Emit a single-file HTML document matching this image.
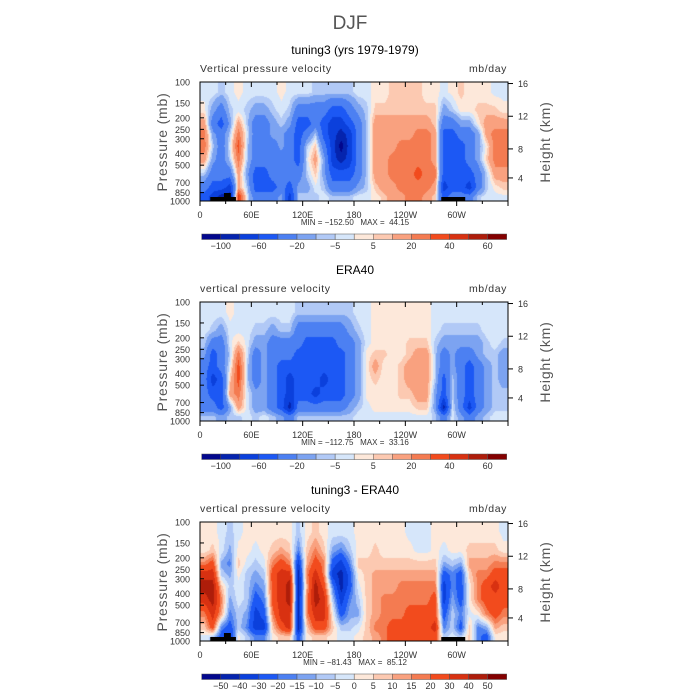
<!DOCTYPE html>
<html><head><meta charset="utf-8">
<style>
html,body{margin:0;padding:0;background:#fff;}
body{width:700px;height:700px;position:relative;overflow:hidden;font-family:"Liberation Sans",sans-serif;}
svg{position:absolute;left:0;top:0;}
canvas{position:absolute;}
text{white-space:pre;}
</style></head>
<body>
<div>
<canvas id="c0" width="308" height="119" style="left:200px;top:82px"></canvas>
<canvas id="c1" width="308" height="119" style="left:200px;top:302px"></canvas>
<canvas id="c2" width="308" height="119" style="left:200px;top:522px"></canvas>
<svg id="svg" width="700" height="700"></svg>
</div>
<script>
// ---- data ----
const lonCenters = [5,15,25,35,45,55,65,75,85,95,105,115,125,135,145,155,165,175,185,195,205,215,225,235,245,255,265,275,285,295,305,315,325,335,345,355];
const presCenters = [122,173,224,274,346,447,592,772,922];
const pressureTicks = [100,150,200,250,300,400,500,700,850,1000];
const heightTicks = [16,12,8,4];
const heightTickP = [103,194,365,640];
const lonTickLabels = ["0","60E","120E","180","120W","60W"];
const lonTickValues = [0,60,120,180,240,300];
const levelsAbs = [-100,-80,-60,-40,-20,-10,-5,0,5,10,20,30,40,50,60];
const levelsDiff = [-50,-40,-30,-20,-15,-10,-5,0,5,10,15,20,30,40,50];
const labelsAbs = ["-100","","-60","","-20","","-5","","5","","20","","40","","60"];
const labelsDiff = ["-50","-40","-30","-20","-15","-10","-5","0","5","10","15","20","30","40","50"];
const colors = ["#02078c","#0524ae","#0b40dc","#1c58f4","#4c80f2","#7ca3f1","#b1c9f6","#d6e6fa","#fde8da","#fcc9b1","#f9a17f","#f47b51","#f24b1d","#d83111","#ae1d0a","#830000"];

const tuning3 = [
[-2,2,15,25,25,15,-7,-30,-50],[-2,-15,-30,-15,-7,-15,-30,-50,-70],[-7,-30,-50,-30,-30,-30,-30,-50,-90],
[-2,-7,-15,-7,-2,-7,-30,-70,-90],[2,-2,15,25,35,25,15,15,45],[-2,-7,-7,-2,-7,-7,-15,-7,-2],
[-2,-15,-30,-30,-30,-30,-50,-50,-30],[-2,-15,-30,-30,-30,-30,-50,-50,-30],[-2,-7,-15,-15,-30,-30,-30,-50,-30],
[2,-2,-7,-15,-15,-30,-30,-30,-15],[-2,-7,-15,-30,-30,-30,-30,-50,-70],[-2,-30,-50,-50,-50,-50,-30,-15,-7],
[-2,-30,-50,-30,-7,-2,-7,-15,-7],[-7,-30,-30,-7,7,15,7,-2,-7],[-7,-30,-50,-50,-30,-15,-15,-7,-2],
[-7,-50,-70,-70,-70,-70,-50,-30,-7],[-7,-50,-70,-90,-110,-90,-50,-30,-7],[-7,-30,-50,-70,-70,-70,-50,-30,-7],
[-2,-15,-30,-30,-30,-30,-30,-15,-2],[-2,-7,-7,-7,-7,-7,-7,-7,-2],[2,7,15,15,15,15,15,7,2],
[2,7,15,15,15,15,15,15,7],[7,7,15,15,15,25,25,15,15],[7,7,15,15,25,25,25,25,15],
[7,7,15,15,25,25,25,25,25],[7,7,15,25,25,25,35,25,25],[2,7,15,25,25,25,25,25,15],
[2,7,7,15,15,15,25,15,7],[-2,-15,-30,-50,-50,-50,-50,-70,-50],[2,-7,-30,-50,-50,-50,-50,-50,-30],
[7,2,-15,-30,-50,-50,-50,-50,-30],[2,2,-15,-30,-30,-30,-50,-70,-30],[2,7,2,-15,-15,-15,-30,-30,-7],
[2,7,15,15,2,7,-7,-7,-2],[-2,7,15,25,25,25,15,2,-2],[-2,2,15,25,25,25,15,7,-2]];

const era40 = [
[-2,-2,-7,-15,-30,-30,-30,-30,-7],[-2,-7,-30,-50,-50,-70,-50,-30,-7],[-2,-15,-30,-30,-30,-50,-50,-50,-15],
[2,-2,-2,-7,-2,7,15,-15,-7],[-2,-2,7,25,35,35,25,15,-7],[-2,-2,-2,-2,-7,-7,-2,-2,-2],
[-2,-7,-15,-30,-30,-30,-15,-15,-7],[-2,-7,-15,-15,-15,-15,-15,-15,-2],[-2,-15,-30,-30,-30,-30,-30,-30,-7],
[-2,-7,-30,-30,-50,-50,-50,-50,-15],[-2,-7,-30,-30,-50,-70,-70,-90,-30],[-7,-30,-30,-50,-50,-50,-50,-30,-7],
[-7,-30,-50,-50,-50,-50,-50,-30,-7],[-7,-30,-50,-50,-50,-50,-70,-30,-7],[-7,-30,-50,-50,-50,-70,-50,-30,-7],
[-7,-30,-50,-50,-50,-50,-50,-30,-7],[-7,-30,-30,-50,-50,-50,-50,-30,-7],[-7,-15,-30,-30,-30,-30,-30,-15,-7],
[-2,-7,-15,-15,-15,-15,-15,-7,-2],[-2,-2,-2,2,2,2,2,-2,-2],[2,2,2,7,15,7,2,2,-2],
[2,2,2,7,2,2,2,2,-2],[2,2,2,2,2,2,2,2,-2],[2,2,2,2,7,7,7,2,-2],
[2,2,7,7,15,15,7,2,-2],[2,2,7,15,15,15,15,7,-2],[2,2,7,15,15,15,15,7,-2],
[-2,-2,-7,-7,-7,-7,-15,-15,-7],[-2,-7,-15,-30,-30,-50,-50,-90,-30],[-2,-7,-15,-15,-15,-7,-7,-2,-2],
[-2,-7,-15,-30,-30,-30,-30,-30,-15],[-2,-7,-15,-30,-50,-50,-50,-70,-30],[-2,-7,-15,-15,-30,-30,-30,-30,-15],
[-2,-2,-7,-7,-15,-15,-15,-15,-7],[-2,-2,-2,-7,-7,-7,-7,-7,-2],[-2,-2,-7,-15,-15,-15,-7,-7,-2]];

const diff = [
[2,2,17,35,45,35,17,7,-2],[2,7,25,35,45,45,35,25,-7],[-2,-2,-12,-7,7,17,12,-17,-25],
[-7,-12,-17,-12,-7,-12,-17,-25,-35],[-2,2,7,2,-2,-2,-7,-7,2],[2,2,-2,-7,-7,-7,-12,-17,-7],
[2,-2,-7,-12,-17,-25,-35,-35,-17],[2,2,-2,-7,-12,-17,-25,-35,-17],[2,7,17,25,25,25,17,7,2],
[2,12,25,35,35,35,35,25,7],[2,7,17,35,45,45,35,35,7],[-7,-17,-35,-45,-45,-45,-45,-45,-25],
[2,7,12,17,12,17,17,7,2],[7,17,25,35,45,45,35,25,7],[2,7,17,17,25,35,35,25,7],
[-2,-12,-25,-35,-17,-7,2,7,2],[-2,-17,-35,-45,-45,-35,-25,-7,-2],[-2,-7,-17,-25,-25,-17,-12,-7,-2],
[2,2,7,2,-2,-7,-12,-2,2],[2,2,7,7,7,7,7,7,7],[2,7,7,12,12,12,12,17,12],
[2,2,7,12,12,17,17,17,17],[2,2,7,12,12,17,17,25,25],[2,2,7,12,17,17,17,25,25],
[-2,2,7,12,17,17,25,25,25],[-2,-2,7,12,17,17,25,25,25],[-2,-2,7,12,17,17,25,25,25],
[2,2,7,12,17,25,25,35,25],[2,-2,-12,-25,-35,-35,-25,-17,-7],[2,2,-7,-17,-17,-12,-7,-7,-2],
[2,2,-12,-25,-25,-25,-17,-25,-7],[2,7,12,7,2,2,-2,7,7],[2,7,12,17,17,17,2,-17,-17],
[2,7,12,17,25,25,17,-12,-25],[2,7,17,25,35,25,25,12,2],[-2,2,17,25,25,25,17,7,2]];

const titles = ["tuning3 (yrs 1979-1979)","ERA40","tuning3 - ERA40"];
const subtitles = ["Vertical pressure velocity","vertical pressure velocity","vertical pressure velocity"];
const minmax = ["MIN = \u2212152.50   MAX =  44.15","MIN = \u2212112.75   MAX =  33.16","MIN = \u221281.43   MAX =  85.12"];

// ---- geometry ----
const X0=200, W=308, H=119, OFF=[82,302,522];
const xScale = lon => X0 + lon/360*W;
const yFrac = p => Math.log(p/100)/Math.log(10);
const yScale = (p,top) => top + yFrac(p)*H;

function hexRGB(h){return [parseInt(h.substr(1,2),16),parseInt(h.substr(3,2),16),parseInt(h.substr(5,2),16)];}
const rgb = colors.map(hexRGB);
function cls(v,lev){let k=0;while(k<lev.length&&v>=lev[k])k++;return k;}

function interp(centers,t){
  if(t<=centers[0])return [0,0,0];
  const n=centers.length;
  if(t>=centers[n-1])return [n-1,n-1,0];
  let i=0;while(centers[i+1]<t)i++;
  return [i,i+1,(t-centers[i])/(centers[i+1]-centers[i])];
}
function drawPanel(id,data,lev){
  const c=document.getElementById(id),ctx=c.getContext('2d');
  const img=ctx.createImageData(W,H);
  const pc=presCenters.map(yFrac);
  for(let py=0;py<H;py++){
    const f=(py+0.5)/H;
    const [r0,r1,ty]=interp(pc,f);
    for(let px=0;px<W;px++){
      const lon=(px+0.5)/W*360;
      const [c0,c1,tx]=interp(lonCenters,lon);
      const v0=data[c0][r0]*(1-ty)+data[c0][r1]*ty;
      const v1=data[c1][r0]*(1-ty)+data[c1][r1]*ty;
      const v=v0*(1-tx)+v1*tx;
      const col=rgb[cls(v,lev)];
      const o=(py*W+px)*4;
      img.data[o]=col[0];img.data[o+1]=col[1];img.data[o+2]=col[2];img.data[o+3]=255;
    }
  }
  ctx.putImageData(img,0,0);
}
drawPanel('c0',tuning3,levelsAbs);
drawPanel('c1',era40,levelsAbs);
drawPanel('c2',diff,levelsDiff);

// ---- SVG overlay ----
const NS="http://www.w3.org/2000/svg";
const svg=document.getElementById('svg');
function el(tag,attrs,parent,text){
  const e=document.createElementNS(NS,tag);
  for(const k in attrs)e.setAttribute(k,attrs[k]);
  if(text!==undefined)e.textContent=text;
  (parent||svg).appendChild(e);return e;
}
let t=el('text',{x:350,y:29,'text-anchor':'middle','font-size':19,fill:'#555'},svg,'DJF');



for(let p=0;p<3;p++){
  const top=OFF[p], off=p*220;
  const g=el('g',{});
  
  
  t=el('text',{x:355,y:54+off,'text-anchor':'middle','font-size':12,fill:'#000'},g,titles[p]);
  
  
  t=el('text',{x:200,y:72+off,'font-size':10.5,fill:'#333','letter-spacing':'0.6'},g,subtitles[p]);
  
  
  t=el('text',{x:507,y:72+off,'text-anchor':'end','font-size':10.5,fill:'#333','letter-spacing':'0.6'},g,'mb/day');
  
  
  if(p!==1){
    const tr=[[12,42,0],[28,36,1],[282,310,0]];
    tr.forEach(a=>{
      const r=el('rect',{x:xScale(a[0]),y:a[2]?top+111:top+115,width:xScale(a[1])-xScale(a[0]),height:a[2]?8:4,fill:'#000'},g);
      
      
    });
  }
  const fr=el('rect',{x:X0,y:top,width:W,height:H,fill:'none',stroke:'#000','stroke-width':1},g);
  
  
  pressureTicks.forEach(pv=>{
    const y=yScale(pv,top);
    el('line',{x1:X0,x2:X0+4,y1:y,y2:y,stroke:'#000'},g);
    const lt=el('text',{x:X0-10,y:y+3.5,'text-anchor':'end','font-size':9,fill:'#333'},g,String(pv));
    
    
  });
  heightTicks.forEach((hv,i)=>{
    const y=yScale(heightTickP[i],top);
    el('line',{x1:X0+W,x2:X0+W+5,y1:y,y2:y,stroke:'#000'},g);
    const lt=el('text',{x:X0+W+10,y:y+3.5,'font-size':9,fill:'#333'},g,String(hv));
    
    
  });
  for(let lon=0;lon<=360;lon+=30){
    const x=xScale(lon), maj=lon%60===0;
    el('line',{x1:x,x2:x,y1:top+H,y2:top+H+(maj?5:3),stroke:'#000'},g);
    el('line',{x1:x,x2:x,y1:top,y2:top+(maj?5:3),stroke:'#000'},g);
  }
  lonTickValues.forEach((lv,i)=>{
    const lt=el('text',{x:xScale(lv),y:top+H+17,'text-anchor':'middle','font-size':9,fill:'#333'},g,lonTickLabels[i]);
    
    
  });
  t=el('text',{x:355,y:top+H+24,'text-anchor':'middle','font-size':8,fill:'#333','xml:space':'preserve'},g,minmax[p]);
  
  
  t=el('text',{x:0,y:0,'text-anchor':'middle','font-size':14,fill:'#555','letter-spacing':'0.8',transform:`translate(167,${top+60}) rotate(-90)`},g,'Pressure (mb)');
  
  
  t=el('text',{x:0,y:0,'text-anchor':'middle','font-size':14,fill:'#555','letter-spacing':'0.8',transform:`translate(550,${top+60}) rotate(-90)`},g,'Height (km)');
  
  
  const cb=el('g',{},g);
  
  
  const cy=top+152, cx0=201.7, cw=305/16;
  colors.forEach((c,i)=>{
    const r=el('rect',{x:cx0+i*cw,y:cy,width:cw,height:5.5,fill:c,stroke:'#555','stroke-width':0.5},cb);
    
    
  });
  const labs=p===2?labelsDiff:labelsAbs;
  labs.forEach((l,i)=>{
    if(!l)return;
    const lt=el('text',{x:cx0+(i+1)*cw,y:cy+15,'text-anchor':'middle','font-size':9,fill:'#333'},cb,l.replace('-','\u2212'));
    
    
  });
}
</script>
</body></html>
